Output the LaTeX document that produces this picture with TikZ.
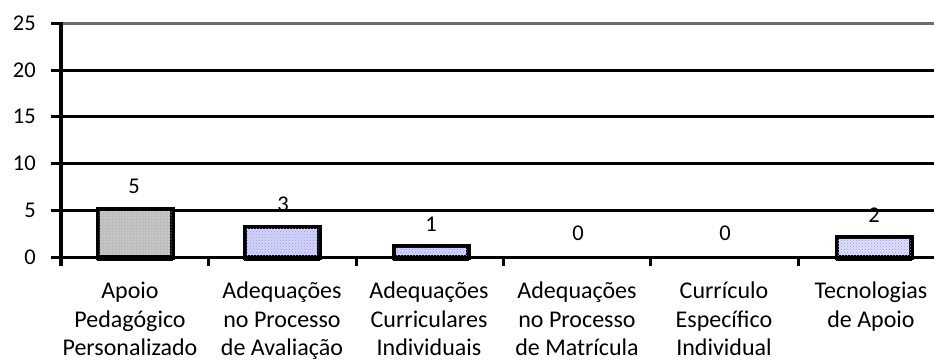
\documentclass[tikz,border=0pt]{standalone}
\usepackage{fontspec}
\setmainfont{Carlito}
\usetikzlibrary{patterns}
\definecolor{barblue}{HTML}{D4D4F7}
\definecolor{bargray}{HTML}{BDBDBD}
\begin{document}
\begin{tikzpicture}[x=1pt,y=-1pt,
  grid/.style={line width=3pt,black},
  topgrid/.style={line width=3pt,gray!85!black},
  barbox/.style={draw=black,line width=3pt},
  ylab/.style={anchor=east,font=\fontsize{22.5}{22.5}\selectfont,inner sep=0pt},
  vlab/.style={font=\fontsize{22.5}{22.5}\selectfont,inner sep=0pt},
  catlab/.style={align=center,anchor=north,font=\fontsize{24}{28.5}\selectfont,inner sep=0pt}]
\useasboundingbox (0,0) rectangle (934,362);
% y axis labels
\foreach \v/\yy in {0/257,5/210,10/163.4,15/116.6,20/70,25/23}{
  \node[ylab] (y\v) at (36,\yy) {\v};
  \coordinate (t\v) at (51,\yy);
  \coordinate (r\v) at (934,\yy);
}
% value labels
\node[vlab] (v1) at (134,186) {5};
\node[vlab] (v2) at (283,204) {3};
\node[vlab] (v3) at (431,224) {1};
\node[vlab] (v4) at (578,233) {0};
\node[vlab] (v5) at (725,233) {0};
\node[vlab] (v6) at (874,215) {2};
% gridlines
\draw[topgrid] (61,23) -- (r25);
\draw[grid] (t25) -- (61,23);
\foreach \v in {0,5,10,15,20}{\draw[grid] (t\v) -- (r\v);}
% y axis
\coordinate (ya) at (61,21.5);
\coordinate (yb) at (61,266);
\draw[grid,line width=3.5pt] (ya) -- (yb);
% category ticks
\foreach \xx in {208,356,503,650,798}{\draw[grid] (\xx,257) -- (\xx,266);}
% bars
\node[barbox,fill=bargray,minimum width=73pt,minimum height=47pt,inner sep=0pt,anchor=south] (b1) at (135,258) {};
\node[barbox,fill=barblue,minimum width=73pt,minimum height=29pt,inner sep=0pt,anchor=south] (b2) at (282,258) {};
\node[barbox,fill=barblue,minimum width=73pt,minimum height=10pt,inner sep=0pt,anchor=south] (b3) at (431,258) {};
\node[barbox,fill=barblue!75!white,minimum width=73pt,minimum height=19pt,inner sep=0pt,anchor=south] (b6) at (874,258) {};
\draw[pattern=dots,pattern color=white] (b1.south west) rectangle (b1.north east);
\foreach \b in {b2,b3,b6}{\draw[pattern=crosshatch dots,pattern color=blue!40!white] (\b.south west) rectangle (\b.north east);}
\foreach \b in {b1,b2,b3,b6}{
  \draw[barbox] (\b.south west) rectangle (\b.north east);
  \draw[line width=5pt] (\b.south west) -- (\b.south east);
}
% category labels
\node[catlab] (c1) at (130,278.5) {\strut Apoio\\Pedagógico\\Personalizado};
\node[catlab] (c2) at (282,278.5) {\strut Adequações\\no Processo\\de Avaliação};
\node[catlab] (c3) at (429,278.5) {\strut Adequações\\Curriculares\\Individuais};
\node[catlab] (c4) at (577,278.5) {\strut Adequações\\no Processo\\de Matrícula};
\node[catlab] (c5) at (724,278.5) {\strut Currículo\\Específico\\Individual};
\node[catlab] (c6) at (871,278.5) {\strut Tecnologias\\de Apoio};
\end{tikzpicture}
\end{document}
